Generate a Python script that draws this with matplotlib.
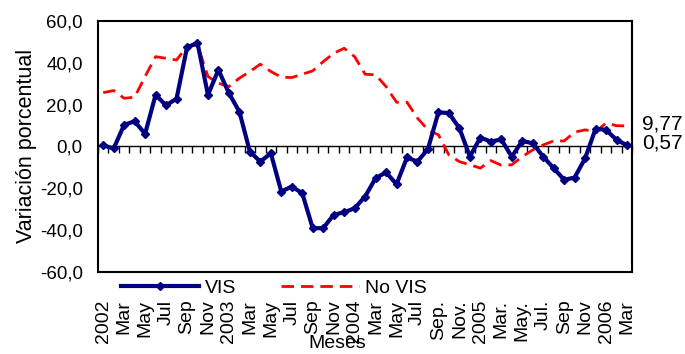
import numpy as np
import matplotlib
matplotlib.use("Agg")
import matplotlib.pyplot as plt
from matplotlib.ticker import FuncFormatter

plt.rcParams['font.family'] = ['Liberation Sans', 'DejaVu Sans']
plt.rcParams['axes.unicode_minus'] = False

# monthly series, Jan 2002 .. Mar 2006
vis = [0.5, -1.0, 10.3, 12.0, 6.0, 24.6, 19.6, 22.8, 47.3, 49.5,
       24.6, 36.6, 25.4, 16.6, -2.5, -7.3, -3.3, -21.6, -19.2, -22.4,
       -39.1, -39.1, -32.7, -31.5, -29.6, -24.0, -15.2, -12.4, -18.1, -5.3,
       -7.3, -1.2, 16.3, 15.9, 8.7, -4.9, 4.2, 2.3, 3.3, -4.9,
       2.6, 1.5, -4.9, -10.4, -16.0, -14.9, -5.7, 8.4, 7.9, 3.1, 0.57]
no_vis = [25.7, 26.7, 23.0, 23.5, 33.4, 42.9, 42.1, 41.3, 47.7, 48.5,
          33.4, 30.2, 28.6, 32.6, 35.8, 39.3, 35.8, 33.1, 32.9, 34.5,
          36.1, 40.5, 44.5, 46.9, 42.9, 34.5, 34.2, 28.6, 21.1, 21.1,
          13.5, 7.9, 5.5, -4.1, -7.3, -8.8, -10.4, -6.8, -9.0, -8.8,
          -4.9, -1.7, 0.7, 2.6, 2.6, 6.8, 7.9, 7.1, 11.1, 9.9, 9.77]
month_labels = ['2002', 'Mar', 'May', 'Jul', 'Sep', 'Nov',
                '2003', 'Mar', 'May', 'Jul', 'Sep', 'Nov',
                '2004', 'Mar', 'May', 'Jul', 'Sep.', 'Nov.',
                '2005', 'Mar.', 'May.', 'Jul.', 'Sep', 'Nov',
                '2006', 'Mar']

x = np.arange(len(vis))

fig = plt.figure(figsize=(6.85, 3.54), dpi=100)
ax = fig.add_axes([0.143, 0.232, 0.78, 0.709])

ax.plot(x, no_vis, color='red', lw=2.0, dashes=(4.5, 2.5), label='No VIS')
ax.plot(x, vis, color='#000080', lw=3, marker='D', ms=4.5, label='VIS')

ax.set_xlim(-0.5, len(vis) - 0.5)
ax.set_ylim(-60, 60)
ax.set_yticks(np.arange(-60, 61, 20))
ax.yaxis.set_major_formatter(FuncFormatter(lambda v, p: f"{v:.1f}".replace('.', ',')))
ax.tick_params(axis='y', length=0, pad=11, labelsize=13.5)

ax.set_xticks(x[::2])
ax.set_xticklabels(month_labels, rotation=90, fontsize=14, va='top')
ax.tick_params(axis='x', length=0, pad=20)

for s in ax.spines.values():
    s.set_linewidth(1.5)

# category axis crossing at zero
zero_axis = ax.secondary_xaxis(0.5)
zero_axis.set_xticks(np.arange(-0.5, len(vis), 1))
zero_axis.tick_params(direction='in', length=5, width=1, labelbottom=False, labeltop=False)
zero_axis.spines['top'].set_linewidth(1)

ax.set_ylabel('Variación porcentual', fontsize=15.5, labelpad=2)

for val in (no_vis[-1], vis[-1]):
    ax.annotate(f"{val:.2f}".replace('.', ','), xy=(1, val),
                xycoords=('axes fraction', 'data'), xytext=(7, 1.5),
                textcoords='offset points', va='center', ha='left', fontsize=15)

handles, labels = ax.get_legend_handles_labels()
fig.legend(handles[::-1], labels[::-1], loc='center', bbox_to_anchor=(0.40, 0.186),
           ncol=2, frameon=False, fontsize=14, numpoints=1, handlelength=4.0,
           columnspacing=2.3, handletextpad=0.3, borderpad=0)

fig.text(0.493, 0.03, 'Meses', ha='center', va='center', fontsize=14)

fig.savefig('out.png', dpi=100)
